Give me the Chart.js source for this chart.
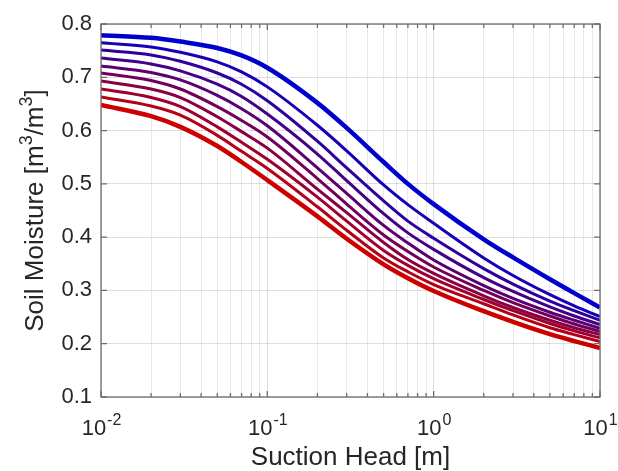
<!DOCTYPE html>
<html lang="en">
<head>
<meta charset="UTF-8" />
<title>Soil Moisture vs Suction Head</title>
<script src="https://cdn.jsdelivr.net/npm/chart.js"></script>
<style>
  html, body { margin: 0; padding: 0; background: #fff; }
</style>
</head>
<body>
<canvas id="chart" width="618" height="471"></canvas>
<script>
  // suction head [m] where the curves were read
  const suction = [0.01, 0.02, 0.03, 0.05, 0.07, 0.1, 0.2, 0.3, 0.5, 0.7, 1, 2, 3, 5, 7, 10];

  // soil moisture [m3/m3], blue (top) to red (bottom)
  const curve1  = [0.779, 0.774, 0.767, 0.755, 0.741, 0.718, 0.652, 0.605, 0.541, 0.500, 0.462, 0.396, 0.362, 0.321, 0.295, 0.268];
  const curve2  = [0.765, 0.757, 0.747, 0.729, 0.710, 0.682, 0.610, 0.562, 0.498, 0.461, 0.426, 0.361, 0.328, 0.292, 0.271, 0.251];
  const curve3  = [0.751, 0.742, 0.730, 0.708, 0.687, 0.656, 0.580, 0.530, 0.468, 0.430, 0.398, 0.341, 0.312, 0.280, 0.262, 0.244];
  const curve4  = [0.736, 0.725, 0.712, 0.687, 0.664, 0.631, 0.556, 0.506, 0.444, 0.408, 0.377, 0.324, 0.298, 0.269, 0.252, 0.236];
  const curve5  = [0.721, 0.709, 0.695, 0.666, 0.641, 0.609, 0.530, 0.482, 0.422, 0.389, 0.357, 0.309, 0.285, 0.259, 0.244, 0.229];
  const curve6  = [0.708, 0.694, 0.678, 0.645, 0.619, 0.588, 0.510, 0.462, 0.404, 0.373, 0.344, 0.300, 0.277, 0.252, 0.237, 0.223];
  const curve7  = [0.693, 0.678, 0.662, 0.626, 0.598, 0.567, 0.490, 0.446, 0.390, 0.358, 0.332, 0.290, 0.268, 0.244, 0.230, 0.217];
  const curve8  = [0.678, 0.662, 0.645, 0.607, 0.578, 0.546, 0.475, 0.430, 0.375, 0.347, 0.322, 0.283, 0.262, 0.238, 0.224, 0.211];
  const curve9  = [0.663, 0.646, 0.629, 0.591, 0.561, 0.529, 0.457, 0.413, 0.361, 0.335, 0.311, 0.275, 0.254, 0.230, 0.217, 0.204];
  const curve10 = [0.648, 0.627, 0.607, 0.571, 0.541, 0.507, 0.439, 0.397, 0.349, 0.323, 0.299, 0.261, 0.241, 0.218, 0.205, 0.192];

  const curves = [curve1, curve2, curve3, curve4, curve5, curve6, curve7, curve8, curve9, curve10];

  // axis ticks
  const xDecades = [0.01, 0.1, 1, 10];
  const xExponents = ['-2', '-1', '0', '1'];
  const yTicks = [0.1, 0.2, 0.3, 0.4, 0.5, 0.6, 0.7, 0.8];

  const xGrid = [];
  for (let d = 0; d < 3; d++) {
    for (let m = 1; m <= 9; m++) xGrid.push(m * xDecades[d]);
  }
  xGrid.push(10);

  const isDecade = v => xDecades.some(d => Math.abs(v / d - 1) < 1e-6);

  const datasets = curves.map((c, i) => {
    const t = i / (curves.length - 1);
    const col = `rgb(${Math.round(205 * t)}, 0, ${Math.round(205 * (1 - t))})`;
    const edge = i === 0 || i === curves.length - 1;
    return {
      data: c.map((y, k) => ({ x: suction[k], y: y })),
      borderColor: col,
      borderWidth: edge ? 4.5 : 3,
      pointRadius: 0,
      fill: false,
      cubicInterpolationMode: 'monotone'
    };
  });

  const textColor = '#262626';

  const axesDecor = {
    id: 'axesDecor',
    afterDraw(chart) {
      const { ctx, chartArea: a, scales: { x, y } } = chart;
      ctx.save();

      // box + inward ticks
      ctx.strokeStyle = '#6e6e6e';
      ctx.lineWidth = 1.3;
      ctx.strokeRect(a.left, a.top, a.right - a.left, a.bottom - a.top);
      ctx.beginPath();
      xGrid.forEach(v => {
        const px = x.getPixelForValue(v);
        const len = isDecade(v) ? 6 : 4;
        ctx.moveTo(px, a.bottom); ctx.lineTo(px, a.bottom - len);
        ctx.moveTo(px, a.top); ctx.lineTo(px, a.top + len);
      });
      yTicks.forEach(v => {
        const py = y.getPixelForValue(v);
        ctx.moveTo(a.left, py); ctx.lineTo(a.left + 6, py);
        ctx.moveTo(a.right, py); ctx.lineTo(a.right - 6, py);
      });
      ctx.stroke();

      ctx.fillStyle = textColor;
      ctx.textBaseline = 'alphabetic';
      ctx.textAlign = 'left';

      // x tick labels 10^n
      const baseFont = '22px "Liberation Sans", Arial, sans-serif';
      const supFont = '16px "Liberation Sans", Arial, sans-serif';
      xDecades.forEach((v, i) => {
        const px = x.getPixelForValue(v);
        ctx.font = baseFont;
        const w1 = ctx.measureText('10').width;
        ctx.font = supFont;
        const w2 = ctx.measureText(xExponents[i]).width;
        const x0 = px - (w1 + w2) / 2;
        ctx.font = baseFont;
        ctx.fillText('10', x0, 435);
        ctx.font = supFont;
        ctx.fillText(xExponents[i], x0 + w1 + 1, 425);
      });

      // x title
      ctx.font = '26px "Liberation Sans", Arial, sans-serif';
      ctx.textAlign = 'center';
      ctx.fillText('Suction Head [m]', (a.left + a.right) / 2, 465);

      // y title with superscripts
      const parts = [
        ['Soil Moisture [m', false], ['3', true], ['/m', false], ['3', true], [']', false]
      ];
      const mainF = '26px "Liberation Sans", Arial, sans-serif';
      const supF = '18px "Liberation Sans", Arial, sans-serif';
      let total = 0;
      parts.forEach(p => { ctx.font = p[1] ? supF : mainF; total += ctx.measureText(p[0]).width; });
      ctx.translate(43, (a.top + a.bottom) / 2);
      ctx.rotate(-Math.PI / 2);
      ctx.textAlign = 'left';
      let cx = -total / 2;
      parts.forEach(p => {
        ctx.font = p[1] ? supF : mainF;
        ctx.fillText(p[0], cx, p[1] ? -11 : 0);
        cx += ctx.measureText(p[0]).width;
      });
      ctx.restore();
    }
  };

  new Chart(document.getElementById('chart'), {
    type: 'line',
    data: { datasets: datasets },
    options: {
      responsive: false,
      animation: false,
      events: [],
      layout: { padding: { top: 24, right: 18, bottom: 0, left: 0 } },
      plugins: { legend: { display: false }, tooltip: { enabled: false } },
      scales: {
        x: {
          type: 'logarithmic',
          min: 0.01,
          max: 10,
          afterBuildTicks: s => { s.ticks = xGrid.map(v => ({ value: v })); },
          afterFit: s => { s.height = 74; },
          ticks: { display: false, autoSkip: false },
          grid: {
            drawTicks: false,
            color: c => isDecade(c.tick.value) ? 'rgba(0,0,0,0.13)' : 'rgba(0,0,0,0.09)',
            lineWidth: 1
          },
          border: { display: false }
        },
        y: {
          min: 0.1,
          max: 0.8,
          afterBuildTicks: s => { s.ticks = yTicks.map(v => ({ value: v })); },
          afterFit: s => { s.width = 101; },
          ticks: {
            padding: 9,
            color: textColor,
            font: { family: '"Liberation Sans", Arial, sans-serif', size: 22 },
            callback: v => v.toFixed(1)
          },
          grid: { drawTicks: false, color: 'rgba(0,0,0,0.13)', lineWidth: 1 },
          border: { display: false }
        }
      }
    },
    plugins: [axesDecor]
  });
</script>
</body>
</html>
